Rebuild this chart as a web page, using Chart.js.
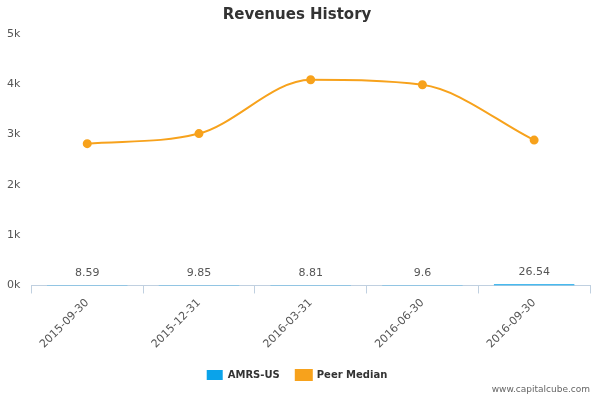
<!DOCTYPE html>
<html>
<head>
<meta charset="utf-8">
<script src="https://cdn.jsdelivr.net/npm/chart.js@4"></script>
<style>
  body { margin: 0; background: #fff; }
  #wrap { position: relative; width: 600px; height: 400px; }
  #credit { position: absolute; right: 10px; bottom: 6px; font: 9px "DejaVu Sans", sans-serif; color: #666; }
</style>
</head>
<body>
<div id="wrap">
  <canvas id="chart" width="600" height="400"></canvas>
  <div id="credit">www.capitalcube.com</div>
</div>
<script>
const categories = ['2015-09-30', '2015-12-31', '2016-03-31', '2016-06-30', '2016-09-30'];
const companyValues = [8.59, 9.85, 8.81, 9.6, 26.54];
const peerMedian = [2820, 3020, 4090, 3990, 2890];
const yTicks = [0, 1000, 2000, 3000, 4000, 5000];

// value labels drawn just above the tiny bars
const barLabels = {
  id: 'barLabels',
  afterDatasetsDraw(chart) {
    const ctx = chart.ctx;
    const meta = chart.getDatasetMeta(0);
    ctx.save();
    ctx.font = '11px "DejaVu Sans", sans-serif';
    ctx.fillStyle = '#555';
    ctx.textAlign = 'center';
    ctx.textBaseline = 'bottom';
    meta.data.forEach((bar, i) => {
      ctx.fillText(String(companyValues[i]), bar.x, bar.y - 6);
    });
    ctx.restore();
  }
};

new Chart(document.getElementById('chart'), {
  data: {
    labels: categories,
    datasets: [
      {
        type: 'bar',
        label: 'AMRS-US',
        data: companyValues,
        backgroundColor: '#0aa3ea',
        order: 2
      },
      {
        type: 'line',
        label: 'Peer Median',
        data: peerMedian,
        borderColor: '#f7a21c',
        backgroundColor: '#f7a21c',
        borderWidth: 2,
        pointRadius: 3.5,
        cubicInterpolationMode: 'monotone',
        order: 1
      }
    ]
  },
  options: {
    responsive: false,
    animation: false,
    layout: { padding: { left: 4, right: 10, top: 0, bottom: 10 } },
    plugins: {
      title: {
        display: true,
        text: 'Revenues History',
        font: { family: 'DejaVu Sans', size: 15, weight: 'bold' },
        color: '#333',
        padding: { top: 6, bottom: 10 }
      },
      legend: {
        position: 'bottom',
        labels: {
          sort: (a, b) => a.datasetIndex - b.datasetIndex,
          font: { family: 'DejaVu Sans', size: 10, weight: 'bold' },
          color: '#333',
          boxWidth: 16,
          boxHeight: 10,
          padding: 16
        }
      },
      tooltip: { enabled: false }
    },
    scales: {
      x: {
        offset: true,
        grid: { display: true, drawOnChartArea: false, offset: true, color: '#c0d0e0', tickLength: 8 },
        border: { color: '#c0d0e0' },
        ticks: {
          maxRotation: 45, minRotation: 45,
          font: { family: 'DejaVu Sans', size: 11 },
          color: '#555'
        }
      },
      y: {
        min: 0, max: 5000,
        afterBuildTicks(axis) { axis.ticks = yTicks.map(v => ({ value: v })); },
        grid: { display: false },
        border: { display: false },
        ticks: {
          callback: v => v === 0 ? '0k' : (v / 1000) + 'k',
          font: { family: 'DejaVu Sans', size: 11 },
          color: '#555'
        }
      }
    }
  },
  plugins: [barLabels]
});
</script>
</body>
</html>
